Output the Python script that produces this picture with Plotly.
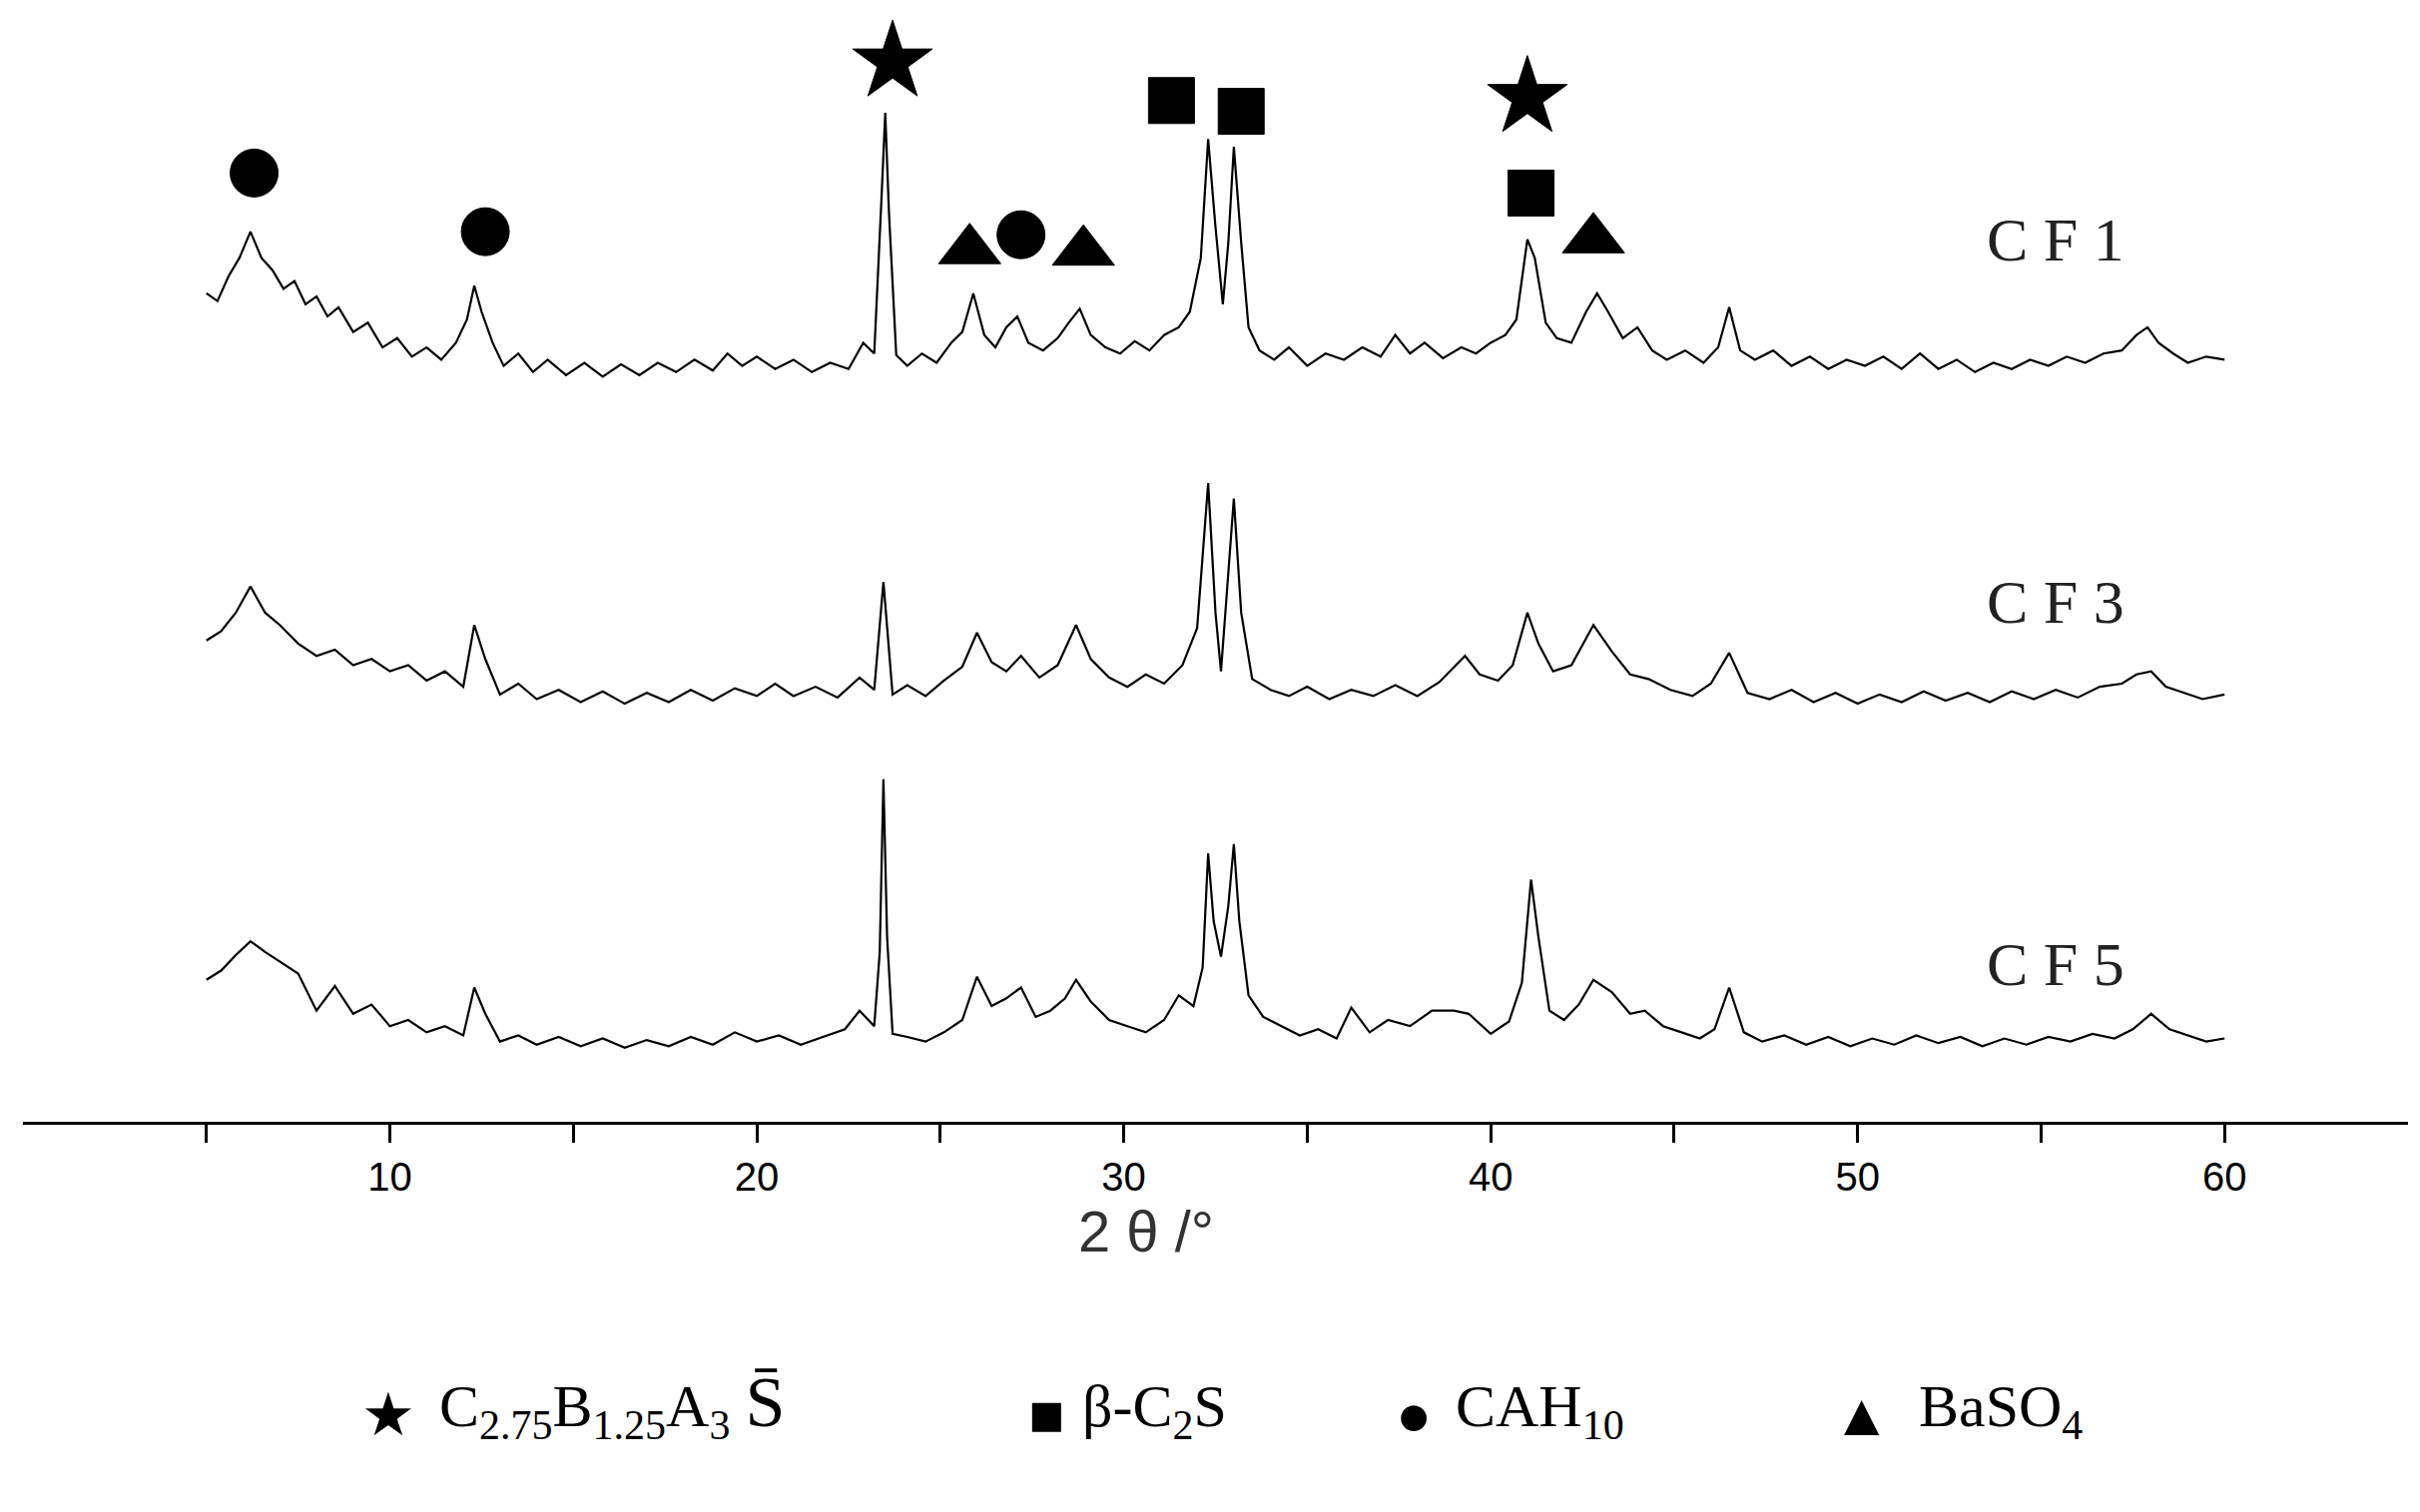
import plotly.graph_objects as go

cf1_x = [5.0,5.3,5.6,5.9,6.2,6.5,6.8,7.1,7.4,7.7,8.0,8.3,8.6,9.0,9.4,9.8,10.2,10.6,11.0,11.4,11.8,12.1,12.3,12.5,12.8,13.1,13.5,13.9,14.3,14.8,15.3,15.8,16.3,16.8,17.3,17.8,18.3,18.8,19.2,19.6,20.0,20.5,21.0,21.5,22.0,22.5,22.9,23.2,23.4,23.5,23.6,23.8,24.1,24.5,24.9,25.3,25.6,25.9,26.2,26.5,26.8,27.1,27.4,27.8,28.2,28.5,28.8,29.1,29.5,29.9,30.3,30.7,31.1,31.5,31.8,32.1,32.3,32.5,32.7,32.85,33.0,33.2,33.4,33.7,34.1,34.5,35.0,35.5,36.0,36.5,37.0,37.4,37.8,38.2,38.7,39.2,39.6,40.0,40.4,40.7,41.0,41.2,41.5,41.8,42.2,42.6,42.9,43.2,43.6,44.0,44.4,44.8,45.3,45.8,46.2,46.5,46.8,47.2,47.7,48.2,48.7,49.2,49.7,50.2,50.7,51.2,51.7,52.2,52.7,53.2,53.7,54.2,54.7,55.2,55.7,56.2,56.7,57.2,57.6,57.9,58.2,58.6,59.0,59.5,60.0]
cf1_y = [537,532,548,560,577,560,552,540,545,530,535,522,528,512,518,502,508,496,502,494,505,520,542,525,505,490,498,486,494,484,492,483,491,484,492,486,494,487,498,490,496,488,494,486,492,488,505,498,600,654,590,497,490,498,492,505,512,537,510,502,515,522,505,500,508,518,527,510,502,498,506,500,510,515,525,560,637,580,530,570,632,570,515,500,494,502,490,498,494,502,496,510,498,505,495,502,498,505,510,520,572,560,518,508,505,525,537,525,508,515,500,494,500,492,502,528,500,494,500,490,496,488,494,490,496,488,498,488,494,486,492,488,494,490,496,492,498,500,510,515,505,498,492,496,494]

cf3_x = [5.0,5.4,5.8,6.2,6.6,7.0,7.5,8.0,8.5,9.0,9.5,10.0,10.5,11.0,11.5,12.0,12.3,12.6,13.0,13.5,14.0,14.6,15.2,15.8,16.4,17.0,17.6,18.2,18.8,19.4,20.0,20.5,21.0,21.6,22.2,22.8,23.2,23.45,23.7,24.1,24.6,25.1,25.6,26.0,26.4,26.8,27.2,27.7,28.2,28.7,29.1,29.6,30.1,30.6,31.1,31.6,32.0,32.3,32.5,32.65,32.8,33.0,33.2,33.5,34.0,34.5,35.0,35.6,36.2,36.8,37.4,38.0,38.6,39.3,39.7,40.2,40.6,41.0,41.3,41.7,42.2,42.8,43.3,43.8,44.3,44.9,45.5,46.0,46.5,47.0,47.6,48.2,48.8,49.4,50.0,50.6,51.2,51.8,52.4,53.0,53.6,54.2,54.8,55.4,56.0,56.6,57.2,57.6,58.0,58.4,58.9,59.4,60.0]
cf3_y = [312,318,330,347,330,322,310,302,306,296,300,292,296,286,292,282,322,300,277,284,274,280,272,279,271,278,272,280,273,281,276,284,276,282,275,288,280,350,277,283,276,286,295,317,298,292,302,288,296,322,300,288,282,290,284,296,320,414,330,292,340,404,330,287,280,276,282,274,280,276,283,276,285,302,290,286,296,330,310,292,296,322,305,290,287,280,276,284,304,278,274,280,272,278,271,277,272,279,273,278,272,279,274,280,275,282,284,290,292,282,278,274,277]

cf5_x = [5.0,5.4,5.8,6.2,6.6,7.0,7.5,8.0,8.5,9.0,9.5,10.0,10.5,11.0,11.5,12.0,12.3,12.6,13.0,13.5,14.0,14.6,15.2,15.8,16.4,17.0,17.6,18.2,18.8,19.4,20.0,20.6,21.2,21.8,22.4,22.8,23.2,23.35,23.45,23.55,23.7,24.1,24.6,25.1,25.6,26.0,26.4,26.8,27.2,27.6,28.0,28.4,28.7,29.1,29.6,30.1,30.6,31.1,31.5,31.9,32.15,32.3,32.45,32.65,32.85,33.0,33.15,33.4,33.8,34.3,34.8,35.3,35.8,36.2,36.7,37.2,37.8,38.4,39.0,39.4,40.0,40.5,40.85,41.1,41.3,41.6,42.0,42.4,42.8,43.3,43.8,44.2,44.7,45.2,45.7,46.1,46.5,46.9,47.4,48.0,48.6,49.2,49.8,50.4,51.0,51.6,52.2,52.8,53.4,54.0,54.6,55.2,55.8,56.4,57.0,57.5,58.0,58.5,59.0,59.5,60.0]
cf5_y = [92,98,108,117,110,104,96,72,88,70,76,62,66,58,62,56,87,70,52,56,50,55,49,54,48,53,49,55,50,58,52,56,50,55,60,72,62,110,222,120,57,55,52,58,66,94,75,80,87,68,72,80,92,78,66,62,58,66,82,75,100,174,130,107,140,180,130,82,68,62,56,60,54,74,58,66,62,72,72,70,57,65,90,157,120,72,66,76,92,84,70,72,62,58,54,60,87,58,52,56,50,55,49,54,50,56,51,55,49,54,50,55,52,57,54,60,70,60,56,52,54]

labels = ["C F 1", "C F 3", "C F 5"]
label_y = [572, 337, 102]

sym_x = [23.7, 41.0, 31.3, 33.2, 41.1, 6.3, 12.6, 27.2, 25.8, 28.9, 42.8]
sym_y = [687, 664, 662, 655, 602, 615, 577, 575, 565, 564, 572]
sym_kind = ["star","star","square","square","square","circle","circle","circle","triangle-up","triangle-up","triangle-up"]
sym_size = {"star": 60, "square": 46, "circle": 48, "triangle-up": 54}

tick_vals = [5,10,15,20,25,30,35,40,45,50,55,60]
tick_text = ["","10","","20","","30","","40","","50","","60"]

fig = go.Figure()
for xs, ys in [(cf1_x, cf1_y), (cf3_x, cf3_y), (cf5_x, cf5_y)]:
    fig.add_trace(go.Scatter(x=xs, y=ys, mode="lines", line=dict(color="black", width=2.2), showlegend=False))
fig.add_trace(go.Scatter(x=sym_x, y=sym_y, mode="markers", showlegend=False, opacity=1,
                         marker=dict(symbol=sym_kind, size=[sym_size[k] for k in sym_kind], color="#000000",
                                     opacity=1, line=dict(color="#000000", width=1))))

serif = "Liberation Serif"
for t, y in zip(labels, label_y):
    fig.add_annotation(x=55.4, y=y, text=t, showarrow=False, font=dict(family=serif, size=62, color="#222"))

fig.add_annotation(x=30.6, xref="x", y=-93/722, yref="paper", text="2 θ /°", showarrow=False,
                   font=dict(family="Liberation Sans", size=58, color="#333"))

legend_items = [
    (9.96, "★"), (11.3, "C<sub>2.75</sub>B<sub>1.25</sub>A<sub>3</sub> <span style='font-size:72px'>S̄</span>"),
    (27.9, "■"), (28.8, "β-C<sub>2</sub>S"),
    (37.9, "●"), (39.0, "CAH<sub>10</sub>"),
    (50.1, "▲"), (51.6, "BaSO<sub>4</sub>"),
]
for x, t in legend_items:
    anchor = "center" if len(t) == 1 else "left"
    fig.add_annotation(x=x, xref="x", y=-213/722, yref="paper", text=t, showarrow=False, xanchor=anchor,
                       font=dict(family=serif, size=60, color="black"))

fig.update_layout(
    width=2424, height=1515, plot_bgcolor="white", paper_bgcolor="white",
    margin=dict(l=15, r=20, t=0, b=399),
    xaxis=dict(range=[0, 65], showline=True, linecolor="black", linewidth=3, ticks="outside",
               ticklen=18, tickwidth=3, tickcolor="black", tickvals=tick_vals, ticktext=tick_text,
               showgrid=False, zeroline=False, tickfont=dict(family="Liberation Sans", size=40, color="black")),
    yaxis=dict(range=[0, 722], visible=False, showgrid=False, zeroline=False),
)
fig.write_html("out.html")
